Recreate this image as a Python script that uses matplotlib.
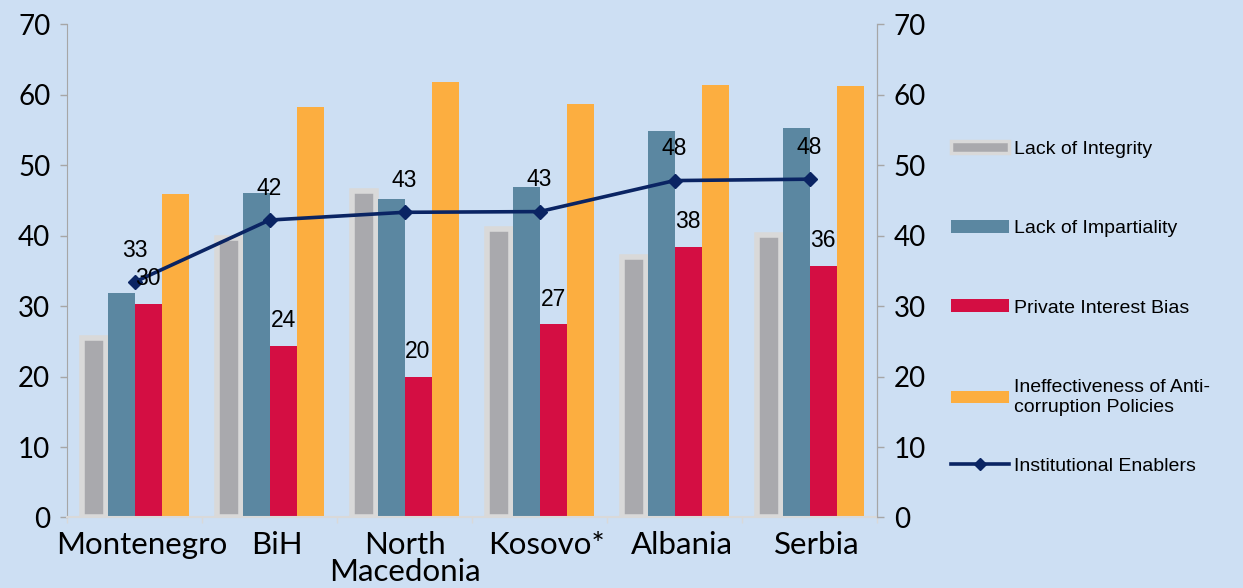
import numpy as np
import matplotlib
matplotlib.use("Agg")
import matplotlib.pyplot as plt
import matplotlib.transforms as mtransforms
from matplotlib.patches import Patch
from matplotlib.lines import Line2D

# dados
countries = ["Montenegro", "BiH", "North\nMacedonia", "Kosovo*", "Albania", "Serbia"]
integrity = [25.5, 39.6, 46.3, 40.9, 37.0, 40.1]
impartiality = [31.8, 46.1, 45.2, 46.9, 54.8, 55.2]
private_bias = [30.3, 24.4, 20.0, 27.4, 38.4, 35.7]
anticorruption = [45.9, 58.3, 61.8, 58.6, 61.3, 61.2]
enablers = [33.4, 42.2, 43.3, 43.4, 47.8, 48.0]

series_names = ["Lack of Integrity", "Lack of Impartiality", "Private Interest Bias",
                "Ineffectiveness of Anti-\ncorruption Policies", "Institutional Enablers"]
yticks = [0, 10, 20, 30, 40, 50, 60, 70]

bg = "#cddff3"
c_gray = "#a9a9ad"
c_gray_edge = "#d9d9d9"
c_blue = "#5b87a1"
c_red = "#d40e43"
c_orange = "#fcae40"
c_line = "#0a2463"
c_axis = "#a6a6a6"

plt.rcParams['font.family'] = ['Lato', 'DejaVu Sans']

fig = plt.figure(figsize=(12.43, 5.88), dpi=100, facecolor=bg)
ax = fig.add_axes([0.0539, 0.1199, 0.6517, 0.8391])
ax.set_facecolor(bg)

x = np.arange(len(countries))
w = 0.2
ax.bar(x - 0.3, integrity, w * 0.88, color=c_gray, edgecolor=c_gray_edge, linewidth=4, zorder=2)
ax.bar(x - 0.1, impartiality, w, color=c_blue, zorder=2)
ax.bar(x + 0.1, private_bias, w, color=c_red, zorder=2)
ax.bar(x + 0.3, anticorruption, w, color=c_orange, zorder=2)
ax.plot(x, enablers, color=c_line, lw=2.6, marker="D", ms=7, zorder=4)

# rótulos
for xi, v in zip(x, enablers):
    ax.annotate(f"{v:.0f}", (xi, v), xytext=(0, 23), textcoords="offset points",
                ha="center", va="center", fontsize=16.5, family="Liberation Sans", zorder=5)
for xi, v in zip(x, private_bias):
    ax.annotate(f"{v:.0f}", (xi + 0.1, v), xytext=(0, 18), textcoords="offset points",
                ha="center", va="center", fontsize=16.5, family="Liberation Sans", zorder=5)

ax.set_xlim(-0.5, len(countries) - 0.5)
ax.set_ylim(0, 70)
ax.set_yticks(yticks)
ax.tick_params(axis="y", labelsize=20, length=5, width=1, color=c_axis, pad=7)
ax.set_xticks(x)
ax.set_xticklabels(countries, fontsize=22.5, linespacing=0.92)
ax.tick_params(axis="x", length=0, pad=10)
ax.set_xticks(np.arange(len(countries) + 1) - 0.5, minor=True)
ax.tick_params(axis="x", which="minor", length=4, color=c_gray_edge, width=1)
# os rótulos de uma linha ficam um pouco à direita no original
shift = mtransforms.ScaledTranslation(5 / 72, 0, fig.dpi_scale_trans)
for lbl in ax.get_xticklabels():
    if "\n" not in lbl.get_text():
        lbl.set_transform(lbl.get_transform() + shift)

ax.spines["top"].set_visible(False)
ax.spines["left"].set_color(c_axis)
ax.spines["right"].set_color(c_axis)
ax.spines["bottom"].set_color(c_gray_edge)
ax.spines["bottom"].set_linewidth(1.5)

ax2 = ax.twinx()
ax2.set_ylim(0, 70)
ax2.set_yticks(yticks)
ax2.tick_params(axis="y", labelsize=20, length=5, width=1, color=c_axis, pad=7)
for s in ["top", "left", "bottom"]:
    ax2.spines[s].set_visible(False)
ax2.spines["right"].set_color(c_axis)

handles = [
    Patch(facecolor=c_gray, edgecolor=c_gray_edge, linewidth=2.5),
    Patch(facecolor=c_blue),
    Patch(facecolor=c_red),
    Patch(facecolor=c_orange),
    Line2D([0], [0], color=c_line, lw=2.6, marker="D", ms=6),
]
leg_kw = dict(frameon=False, prop={"family": "Liberation Sans", "size": 14},
              handlelength=3.0, handleheight=0.6, handletextpad=0.25, labelspacing=3.2)
leg1 = fig.legend(handles[:4], series_names[:4], loc="upper left",
                  bbox_to_anchor=(0.751, 0.79), **leg_kw)
for t in leg1.get_texts():
    t.set_linespacing(1.25)
leg2 = fig.legend(handles[4:], series_names[4:], loc="center left",
                  bbox_to_anchor=(0.751, 0.2075), **leg_kw)

fig.savefig("out.png", dpi=100, facecolor=bg)
